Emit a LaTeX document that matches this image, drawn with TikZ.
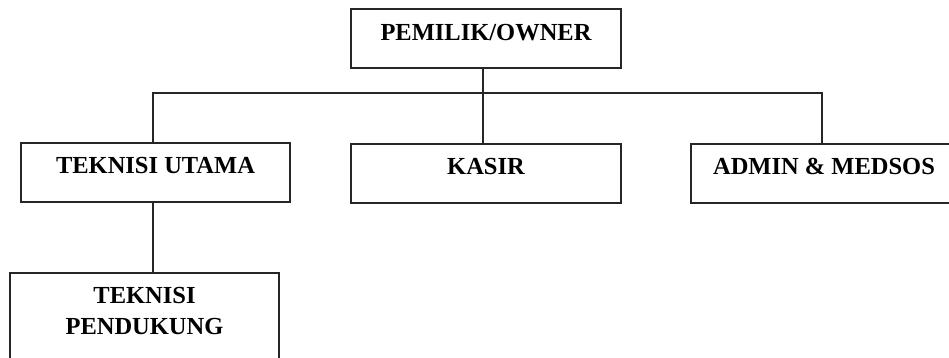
\documentclass[tikz,border=0pt]{standalone}
\usepackage{fontspec}
\setmainfont{Liberation Serif}
\begin{document}
\begin{tikzpicture}[x=1pt,y=-1pt,
  boxst/.style={draw=black!85, line width=1.3pt, rectangle, inner sep=0pt, fill=none},
  lbl/.style={font=\bfseries\fontsize{24.5}{31.5}\selectfont, inner sep=0pt, anchor=base, align=center},
  conn/.style={draw=black!85, line width=1.3pt}]
\useasboundingbox (0,0) rectangle (949,358);
\clip (0,0) rectangle (949,358);
% boxes
\node[boxst, minimum width=270pt, minimum height=59pt] (owner) at (486,38.5) {};
\node[boxst, minimum width=269pt, minimum height=59pt] (utama) at (155.5,172.5) {};
\node[boxst, minimum width=270pt, minimum height=59pt] (kasir) at (486,173.5) {};
\node[boxst, minimum width=280pt, minimum height=59pt] (admin) at (831,173.5) {};
\node[boxst, minimum width=269pt, minimum height=110pt] (pend) at (144.5,328) {};
% labels
\node[lbl] (townerlbl) at ([yshift=-32pt]owner.north) {PEMILIK/OWNER};
\node[lbl] (tutamalbl) at ([yshift=-31pt]utama.north) {TEKNISI UTAMA};
\node[lbl] (tkasirlbl) at ([yshift=-31pt]kasir.north) {KASIR};
\node[lbl] (tadminlbl) at ([yshift=-31pt,xshift=-7pt]admin.north) {ADMIN \& MEDSOS};
\node[lbl, anchor=base] (tpendlbl1) at ([yshift=-31pt]pend.north) {TEKNISI};
\node[lbl, anchor=base] (tpendlbl2) at ([yshift=-62.5pt]pend.north) {PENDUKUNG};
% connectors
\coordinate (hl) at (153,93);
\coordinate (hm) at (483,93);
\coordinate (hr) at (822,93);
\draw[conn] (hm |- owner.south) -- (hm |- kasir.north);
\draw[conn] (hl |- utama.north) -- (hl) -- (hr) -- (hr |- admin.north);
\draw[conn] (hl |- utama.south) -- (hl |- pend.north);
\end{tikzpicture}
\end{document}
